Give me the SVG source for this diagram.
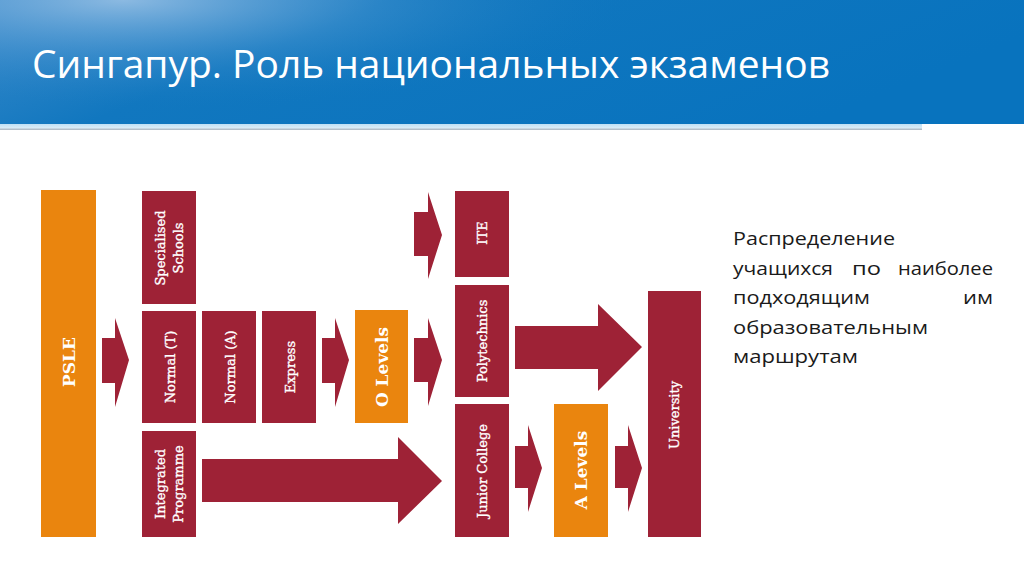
<svg xmlns="http://www.w3.org/2000/svg" width="1024" height="576" viewBox="0 0 1024 576">
  <defs>
    <linearGradient id="hdr" x1="0" y1="0" x2="1" y2="0.3">
      <stop offset="0" stop-color="#3C8BCB"/>
      <stop offset="0.35" stop-color="#1177BF"/>
      <stop offset="1" stop-color="#0873BE"/>
    </linearGradient>
    <radialGradient id="glow" cx="0.12" cy="0" r="0.5" gradientTransform="scale(1,1.8)">
      <stop offset="0" stop-color="#9CC3E6" stop-opacity="0.85"/>
      <stop offset="0.5" stop-color="#5A9FD6" stop-opacity="0.35"/>
      <stop offset="1" stop-color="#1177BF" stop-opacity="0"/>
    </radialGradient>
    <linearGradient id="band" x1="0" y1="0" x2="0" y2="1">
      <stop offset="0" stop-color="#BFE0F5"/>
      <stop offset="0.6" stop-color="#D8EBF7"/>
      <stop offset="1" stop-color="#A9B3BE"/>
    </linearGradient>
    <style>
      .red { fill: #9E2236; }
      .org { fill: #EA850E; }
      .lbl { font-family: "DejaVu Serif", "Liberation Serif", serif; font-size: 13px; fill: #FFFFFF; stroke: #FFFFFF; stroke-width: 0.35; text-anchor: middle; dominant-baseline: central; }
      .big { font-size: 17px; font-weight: bold; stroke-width: 0; }
      .arr { fill: #9E2236; }
      .body { font-family: "Open Sans", "Noto Sans", sans-serif; font-size: 18px; fill: #1A1A1A; }
    </style>
  </defs>

  <rect width="1024" height="576" fill="#FFFFFF"/>

  <g id="header">
    <rect x="0" y="0" width="1024" height="124" fill="url(#hdr)"/>
    <rect x="0" y="0" width="1024" height="124" fill="url(#glow)"/>
    <rect x="0" y="124" width="922" height="6" fill="url(#band)"/>
    <text x="32" y="78" font-family="Open Sans, Noto Sans, sans-serif" font-size="38" fill="#FFFFFF" textLength="798" lengthAdjust="spacingAndGlyphs">Сингапур. Роль национальных экзаменов</text>
  </g>

  <g id="connectors">
    <polygon class="arr" points="102,338 115,338 115,318 129,360 115,407 115,383 102,383"/>
    <polygon class="arr" points="322,338 335,338 335,318 349,360 335,407 335,383 322,383"/>
    <polygon class="arr" points="414,338 428,338 428,318 442,360 428,406 428,382 414,382"/>
    <polygon class="arr" points="414,212 428,212 428,192 442,235 428,279 428,256 414,256"/>
    <polygon class="arr" points="515,326 598,326 598,304 642,347 598,391 598,369 515,369"/>
    <polygon class="arr" points="202,459 398,459 398,437 442,481 398,524 398,502 202,502"/>
    <polygon class="arr" points="515,446 528,446 528,425 542,468 528,512 528,488 515,488"/>
    <polygon class="arr" points="615,446 628,446 628,425 642,468 628,512 628,488 615,488"/>
  </g>

  <g id="psle">
    <rect class="org" x="41" y="190" width="55" height="347"/>
    <text class="lbl big" transform="translate(69,362) rotate(-90)">PSLE</text>
  </g>
  <g id="specialised">
    <rect class="red" x="142" y="191" width="54" height="113"/>
    <text class="lbl" transform="translate(160,248) rotate(-90)">Specialised</text>
    <text class="lbl" transform="translate(178,248) rotate(-90)">Schools</text>
  </g>
  <g id="normal-t">
    <rect class="red" x="142" y="311" width="54" height="112"/>
    <text class="lbl" transform="translate(170,367) rotate(-90)">Normal (T)</text>
  </g>
  <g id="normal-a">
    <rect class="red" x="202" y="311" width="54" height="112"/>
    <text class="lbl" transform="translate(230,367) rotate(-90)">Normal (A)</text>
  </g>
  <g id="express">
    <rect class="red" x="262" y="311" width="54" height="112"/>
    <text class="lbl" transform="translate(290,367) rotate(-90)">Express</text>
  </g>
  <g id="integrated">
    <rect class="red" x="142" y="431" width="54" height="106"/>
    <text class="lbl" transform="translate(160,484) rotate(-90)">Integrated</text>
    <text class="lbl" transform="translate(178,484) rotate(-90)">Programme</text>
  </g>
  <g id="o-levels">
    <rect class="org" x="355" y="310" width="53" height="113"/>
    <text class="lbl big" transform="translate(382,367) rotate(-90)">O Levels</text>
  </g>
  <g id="ite">
    <rect class="red" x="455" y="191" width="54" height="86"/>
    <text class="lbl" transform="translate(482,233) rotate(-90)">ITE</text>
  </g>
  <g id="polytechnics">
    <rect class="red" x="455" y="285" width="54" height="112"/>
    <text class="lbl" transform="translate(482,341) rotate(-90)">Polytechnics</text>
  </g>
  <g id="junior-college">
    <rect class="red" x="455" y="404" width="54" height="133"/>
    <text class="lbl" transform="translate(482,471) rotate(-90)">Junior College</text>
  </g>
  <g id="a-levels">
    <rect class="org" x="554" y="404" width="54" height="133"/>
    <text class="lbl big" transform="translate(581,470) rotate(-90)">A Levels</text>
  </g>
  <g id="university">
    <rect class="red" x="648" y="291" width="53" height="246"/>
    <text class="lbl" transform="translate(674,415) rotate(-90)">University</text>
  </g>

  <g id="description">
    <text class="body" x="733" y="245" textLength="162" lengthAdjust="spacingAndGlyphs">Распределение</text>
    <text class="body" x="733" y="275" textLength="100" lengthAdjust="spacingAndGlyphs">учащихся</text>
    <text class="body" x="852" y="275" textLength="29" lengthAdjust="spacingAndGlyphs">по</text>
    <text class="body" x="898" y="275" textLength="95" lengthAdjust="spacingAndGlyphs">наиболее</text>
    <text class="body" x="733" y="304" textLength="137" lengthAdjust="spacingAndGlyphs">подходящим</text>
    <text class="body" x="963" y="304" textLength="30" lengthAdjust="spacingAndGlyphs">им</text>
    <text class="body" x="733" y="334" textLength="195" lengthAdjust="spacingAndGlyphs">образовательным</text>
    <text class="body" x="733" y="363" textLength="125" lengthAdjust="spacingAndGlyphs">маршрутам</text>
  </g>
</svg>
